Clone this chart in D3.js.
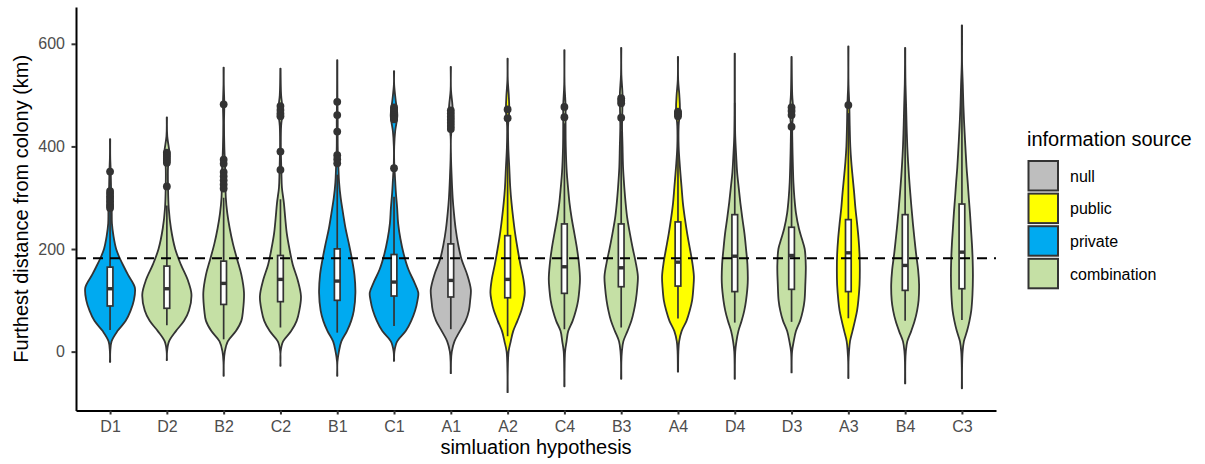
<!DOCTYPE html>
<html><head><meta charset="utf-8">
<script src="https://cdn.jsdelivr.net/npm/d3@7"></script>
<style>
body{margin:0;background:#fff;}
svg{display:block;font-family:"Liberation Sans",Arial,Helvetica,sans-serif;}
</style>
</head><body>
<svg id="chart" width="1205" height="464"></svg>
<script>
// ---------------- data ----------------
const categories = ["D1","D2","B2","C2","B1","C1","A1","A2","C4","B3","A4","D4","D3","A3","B4","C3"];
const sources = ["private","combination","combination","combination","private","private","null","public",
                 "combination","combination","public","combination","combination","public","combination","combination"];
const legendSources = ["null","public","private","combination"];
const sourceColors = ["#BEBEBE","#FFFF00","#00AAF0","#C5E0A5"];
const yTicks = [0,200,400,600];
const referenceLine = 182;

const q1      = [89,84.5,92,97.4,100,108.4,106.5,105,113.6,126.5,127.8,117,121.4,117,119.4,122.6];
const medians = [122.6,122.6,133,140.8,137.5,135.6,138.8,140.8,165.4,163.4,174.4,186,187.4,192.6,168,193.9];
const q3      = [164.7,166.7,176.4,187.4,200.3,189.3,210,226,248.9,248.9,252.8,267,242.4,257.3,267,287.7];
const whiskerLow  = [42,51.5,24,47,37,50,43.7,30,43.7,47,64.4,56.6,58,65,60,61.8];
const whiskerHigh = [276,285,300,297,345,302,357,405,445,430,438,485,420,465,485,530];

const outliers = [
  [351,313,308,303,298,293,288,284,280],
  [388,384,380,376,372,368,322],
  [482,374,366,350,342,334,326,318],
  [478.6,471,464.4,459,390,354.4],
  [487,461,429,383,375,367],
  [476,471,466,461,457,453,357.6],
  [470,464,458,452,446,440,434],
  [472,455],
  [477,457],
  [494,489,484,456],
  [468,465,462,459],
  [],
  [476,469,461,438.5],
  [480.6],
  [],
  []
];

// violin density profiles: [distance (km), relative density]
const violinProfiles = [
  [[-20,0],[0,1],[20,2.3],[40,8.3],[60,16.7],[80,21.7],[100,25],[125,26],[150,19],[165,15],[182,10.7],[200,7],[225,4.3],[250,2.7],[275,2.5],[300,2],[350,1.5],[380,0.8],[414,0]],
  [[-16.5,0],[0,1],[20,3],[40,10],[60,18.3],[80,23.3],[112,25.8],[140,22],[170,15],[200,9.3],[240,5],[280,2.7],[320,2],[360,2],[375,3],[390,3.3],[420,1.2],[456.6,0]],
  [[-47,0],[-20,1],[0,2],[20,5],[40,13.3],[60,18.8],[80,20.5],[115,21.5],[150,18.8],[180,14.5],[210,10.3],[240,7],[270,4.5],[300,3],[350,2.5],[400,1.5],[450,1.2],[480,1.5],[520,0.8],[553.7,0]],
  [[-27.5,0],[0,1],[20,3.5],[40,11.7],[60,17.3],[80,20],[108,21.7],[140,18.3],[170,13.3],[200,10],[230,7.3],[260,5.7],[290,4.3],[320,2.3],[350,1.8],[400,1.2],[440,1.5],[470,3],[500,1.5],[551.8,0]],
  [[-47,0],[-20,1],[0,2.5],[20,5],[40,10.7],[60,15],[80,17.7],[115,19.3],[150,18.3],[180,15.8],[210,12.7],[240,9.3],[270,6.7],[300,4.3],[330,2.7],[360,2],[400,1.3],[450,1.3],[500,1],[568,0]],
  [[-18,0],[0,1.2],[20,4],[40,12.7],[60,18.3],[80,22.3],[100,24.7],[115,25.5],[135,21.5],[160,15.5],[190,10.7],[220,7.3],[250,5],[280,4],[310,2.7],[340,1.8],[370,1],[400,1],[430,2],[460,4.2],[490,2.5],[520,0.8],[546.6,0]],
  [[-42,0],[-20,1],[0,1.8],[20,4.5],[40,10],[60,15.8],[80,19.2],[100,20.5],[121,21.2],[150,17.5],[180,11.7],[210,8.2],[240,5.7],[270,4],[300,2.7],[340,1.7],[380,1],[420,1],[450,3],[480,2.5],[510,1],[555,0]],
  [[-79,0],[-40,0.8],[0,1.8],[20,4],[40,6.5],[60,10.8],[80,14.8],[100,17.3],[115,18.3],[140,17],[170,13.8],[200,11],[230,8.5],[260,6.5],[290,4.8],[320,3.5],[360,2.5],[400,1.5],[440,1.3],[470,2.5],[500,2],[530,1],[571,0]],
  [[-67.6,0],[-40,0.8],[0,1.5],[20,3],[40,4.7],[60,9.2],[80,12.5],[100,14.8],[120,16],[141,16.7],[170,15.7],[200,13.7],[230,11],[260,8.2],[290,6],[320,4.5],[350,3.2],[400,2.2],[450,2],[480,2],[520,1],[587.4,0]],
  [[-53,0],[-20,0.8],[0,1.5],[20,3],[40,7.2],[60,11.2],[80,13.8],[100,15.7],[125,17.2],[147,17.8],[175,15.5],[200,12.7],[230,9.7],[260,7],[290,5.3],[320,4],[360,2.7],[400,2.2],[440,1.7],[470,2],[500,2.2],[540,1],[592,0]],
  [[-39,0],[0,1.2],[20,2],[40,4.5],[60,9.5],[80,12.8],[100,15.2],[125,16.5],[147,17],[175,15.3],[200,13],[230,10.2],[260,7.8],[290,5.8],[320,4.5],[360,2.8],[400,1.5],[440,1.5],[470,2.8],[500,2.2],[530,1],[574.4,0]],
  [[-53,0],[0,1.3],[20,2.5],[40,4.5],[60,7.8],[80,10.5],[100,12.3],[134,14],[170,13.7],[200,12.3],[230,10.7],[260,8.5],[290,6.5],[320,4.8],[350,3.2],[380,2.3],[420,1.3],[460,1],[500,0.8],[581,0]],
  [[-40.5,0],[0,1.3],[20,3],[40,5.3],[60,9.5],[80,12.3],[100,14],[130,14.8],[167,15.3],[200,14.2],[220,11.3],[240,8.3],[270,5.3],[300,3.7],[330,2.7],[360,2.2],[400,1.7],[440,1.5],[470,2.5],[500,1.5],[574.4,0]],
  [[-51.5,0],[-20,0.8],[0,1.5],[20,2.5],[40,5],[60,7.5],[80,9.7],[100,11],[130,12.2],[160,12.5],[190,12.2],[220,11.2],[250,9.7],[280,8],[310,6.7],[340,5.2],[370,3.8],[400,2.8],[440,2.2],[480,1.8],[520,1],[595,0]],
  [[-62,0],[-20,1],[0,1.5],[20,3],[40,7],[60,10.5],[80,13],[100,14.5],[131,15],[160,14],[190,12],[220,10.3],[250,8.7],[280,7.3],[310,6],[340,4.8],[370,3.8],[400,3],[440,2.3],[480,1.8],[520,1.2],[560,0.7],[592,0]],
  [[-71.5,0],[-30,0.8],[0,1.5],[20,2.8],[40,6],[60,8.5],[80,10.3],[110,11.5],[147,12],[180,11.7],[210,11],[240,10],[270,9],[300,7.8],[330,6.7],[360,5.5],[400,4.3],[440,3.2],[480,2.3],[520,1.7],[560,1],[600,0.5],[636,0]]
];

// ---------------- layout ----------------
const svg = d3.select("#chart");
const panel = {left:76, right:996, top:7, bottom:410.5};
const outline = "#333333";

const x = d3.scalePoint().domain(categories).range([panel.left, panel.right]).padding(0.6);
const allVals = violinProfiles.flat().map(p => p[0]);
const lo = d3.min(allVals), hi = d3.max(allVals), pad = (hi - lo) * 0.05;
const y = d3.scaleLinear().domain([lo - pad, hi + pad]).range([panel.bottom, panel.top]);
const color = d3.scaleOrdinal().domain(legendSources).range(sourceColors);
const maxDens = d3.max(violinProfiles.flat(), p => p[1]);
const w = d3.scaleLinear().domain([0, maxDens]).range([0, x.step() * 0.45]);
const hw = d => Math.max(0.15, w(d) - 0.8);

// reference dashed line drawn beneath? (ggplot draws after violins) — draw violins first
const gV = svg.append("g");
categories.forEach((c, i) => {
  const cx = x(c);
  const area = d3.area()
    .y(p => y(p[0]))
    .x0(p => cx - hw(p[1]))
    .x1(p => cx + hw(p[1]))
    .curve(d3.curveCatmullRom.alpha(0.5));
  gV.append("path")
    .attr("d", area(violinProfiles[i]))
    .attr("fill", color(sources[i]))
    .attr("stroke", outline)
    .attr("stroke-width", 1.8)
    .attr("stroke-linejoin", "round");
});

// boxplots
const gB = svg.append("g");
const bw = x.step() * 0.1;
categories.forEach((c, i) => {
  const cx = x(c);
  gB.append("line").attr("x1", cx).attr("x2", cx)
    .attr("y1", y(whiskerLow[i])).attr("y2", y(q1[i]))
    .attr("stroke", outline).attr("stroke-width", 1.7);
  gB.append("line").attr("x1", cx).attr("x2", cx)
    .attr("y1", y(q3[i])).attr("y2", y(whiskerHigh[i]))
    .attr("stroke", outline).attr("stroke-width", 1.7);
  gB.append("rect")
    .attr("x", cx - bw / 2).attr("width", bw)
    .attr("y", y(q3[i])).attr("height", y(q1[i]) - y(q3[i]))
    .attr("fill", "#fff").attr("stroke", outline).attr("stroke-width", 1.7);
  gB.append("line").attr("x1", cx - bw / 2).attr("x2", cx + bw / 2)
    .attr("y1", y(medians[i])).attr("y2", y(medians[i]))
    .attr("stroke", outline).attr("stroke-width", 3.4);
  gB.selectAll(null).data(outliers[i]).enter().append("circle")
    .attr("cx", cx).attr("cy", d => y(d)).attr("r", 3.9)
    .attr("fill", outline);
});

// dashed reference line
svg.append("line")
  .attr("x1", panel.left).attr("x2", panel.right)
  .attr("y1", y(referenceLine)).attr("y2", y(referenceLine))
  .attr("stroke", "#000").attr("stroke-width", 1.9)
  .attr("stroke-dasharray", "10,7");

// axes
const gy = svg.append("g").attr("transform", `translate(${panel.left},0)`)
  .call(d3.axisLeft(y).tickValues(yTicks).tickSize(4.5).tickPadding(6.5).tickSizeOuter(0));
const gx = svg.append("g").attr("transform", `translate(0,${panel.bottom})`)
  .call(d3.axisBottom(x).tickSize(4).tickPadding(6.5).tickSizeOuter(0));
[gy, gx].forEach(g => {
  g.attr("font-family", null).attr("font-size", null);
  g.select(".domain").attr("stroke", "#000").attr("stroke-width", 2);
  g.selectAll(".tick line").attr("stroke", outline).attr("stroke-width", 2);
  g.selectAll(".tick text").attr("fill", "#4D4D4D").style("font-size", "16px");
});

// axis titles
svg.append("text")
  .attr("x", (panel.left + panel.right) / 2).attr("y", 454)
  .attr("text-anchor", "middle").style("font-size", "20px").attr("fill", "#000")
  .text("simluation hypothesis");
svg.append("text")
  .attr("transform", `translate(28,${(panel.top + panel.bottom) / 2}) rotate(-90)`)
  .attr("text-anchor", "middle").style("font-size", "20px").attr("fill", "#000")
  .text("Furthest distance from colony (km)");

// legend
const lg = svg.append("g").attr("transform", "translate(1027,0)");
lg.append("text").attr("x", 0).attr("y", 146).style("font-size", "20px").attr("fill", "#000")
  .text("information source");
legendSources.forEach((s, i) => {
  const top = 161 + i * 32.6;
  lg.append("rect").attr("x", 1.5).attr("y", top).attr("width", 29.5).attr("height", 29.5)
    .attr("fill", color(s)).attr("stroke", outline).attr("stroke-width", 2);
  lg.append("text").attr("x", 43).attr("y", top + 15).attr("dy", "0.36em")
    .style("font-size", "16px").attr("fill", "#000").text(s);
});
</script>
</body></html>
